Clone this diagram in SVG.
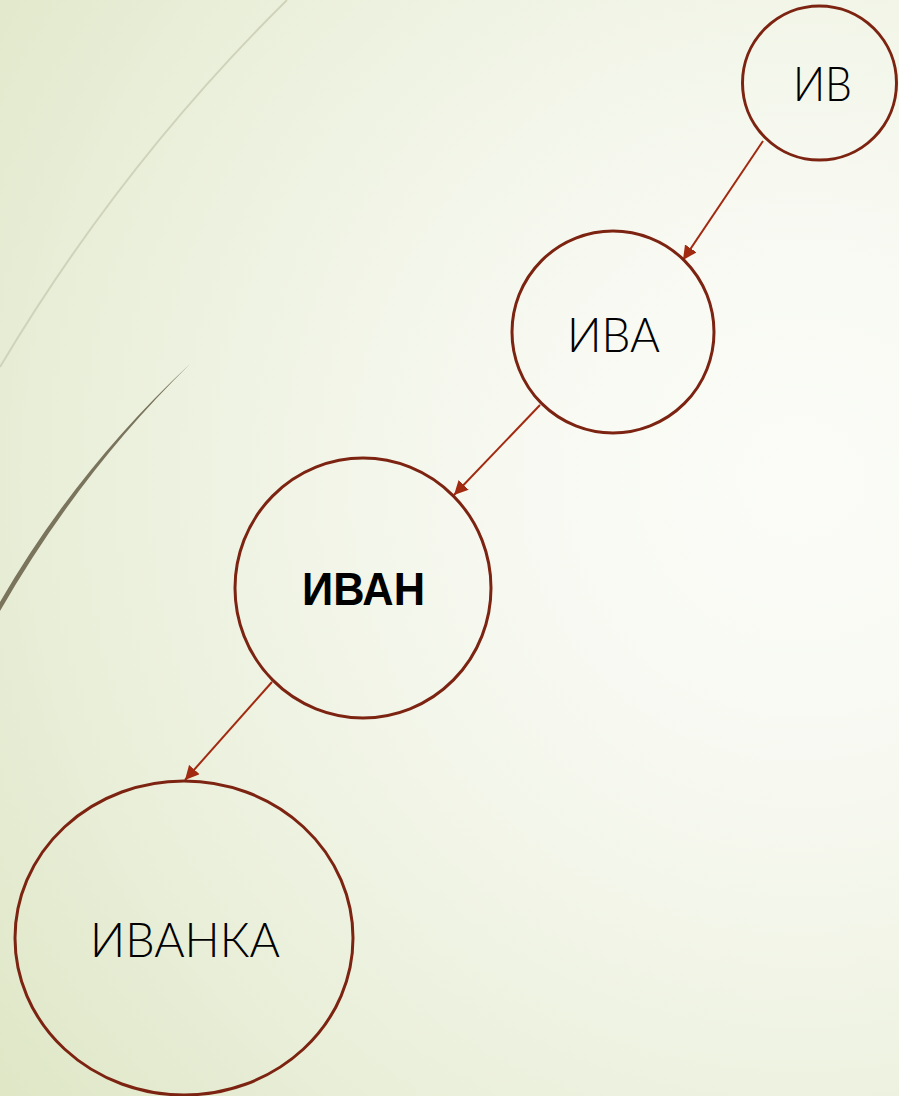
<svg xmlns="http://www.w3.org/2000/svg" width="899" height="1096" viewBox="0 0 899 1096">
  <defs>
    <radialGradient id="bg" gradientUnits="userSpaceOnUse" cx="800" cy="480" r="1000">
      <stop offset="0" stop-color="#fbfcf8"/>
      <stop offset="0.3" stop-color="#f7f9f1"/>
      <stop offset="0.7" stop-color="#ebf0dc"/>
      <stop offset="1" stop-color="#dfe7c7"/>
    </radialGradient>
    <marker id="arrow" viewBox="0 0 10 10" refX="10" refY="5" markerWidth="7" markerHeight="7" orient="auto" markerUnits="strokeWidth">
      <path d="M0,0 L10,5 L0,10 Z" fill="#a12a10"/>
    </marker>
    <style>
      .node { fill: none; stroke: #7c2411; stroke-width: 3; }
      .edge { fill: none; stroke: #a12a10; stroke-width: 2; marker-end: url(#arrow); }
      .label { font-family: "Lato", "Liberation Sans", sans-serif; font-weight: 300; font-size: 47px; fill: #000; text-anchor: middle; }
      .bold { font-family: "Liberation Sans", sans-serif; font-weight: 700; font-size: 46px; }
    </style>
  </defs>

  <!-- background -->
  <rect x="0" y="0" width="899" height="1096" fill="url(#bg)"/>

  <!-- decorative swooshes on the left -->
  <path d="M287,0 Q120,165 0,367" fill="none" stroke="#cfd3ba" stroke-width="2"/>
  <path d="M190,364 Q80,472 0,611 L0,602 Q77,469 190,364 Z" fill="#7a745c"/>

  <!-- connectors -->
  <g id="connectors">
    <line class="edge" x1="763" y1="141" x2="683" y2="260"/>
    <line class="edge" x1="540" y1="405" x2="454" y2="495"/>
    <line class="edge" x1="272" y1="682" x2="185" y2="780"/>
  </g>

  <!-- nodes -->
  <g id="node-iv">
    <circle class="node" cx="819.5" cy="83" r="77"/>
    <text class="label" x="822.5" y="101" textLength="59" lengthAdjust="spacingAndGlyphs">ИВ</text>
  </g>
  <g id="node-iva">
    <circle class="node" cx="613" cy="332" r="101"/>
    <text class="label" x="613.5" y="352" textLength="93" lengthAdjust="spacingAndGlyphs">ИВА</text>
  </g>
  <g id="node-ivan">
    <ellipse class="node" cx="363" cy="588" rx="128" ry="130"/>
    <text class="label bold" x="363.5" y="605" textLength="123" lengthAdjust="spacingAndGlyphs">ИВАН</text>
  </g>
  <g id="node-ivanka">
    <ellipse class="node" cx="184" cy="938" rx="169" ry="157"/>
    <text class="label" x="185" y="957" textLength="190" lengthAdjust="spacingAndGlyphs">ИВАНКА</text>
  </g>
</svg>
